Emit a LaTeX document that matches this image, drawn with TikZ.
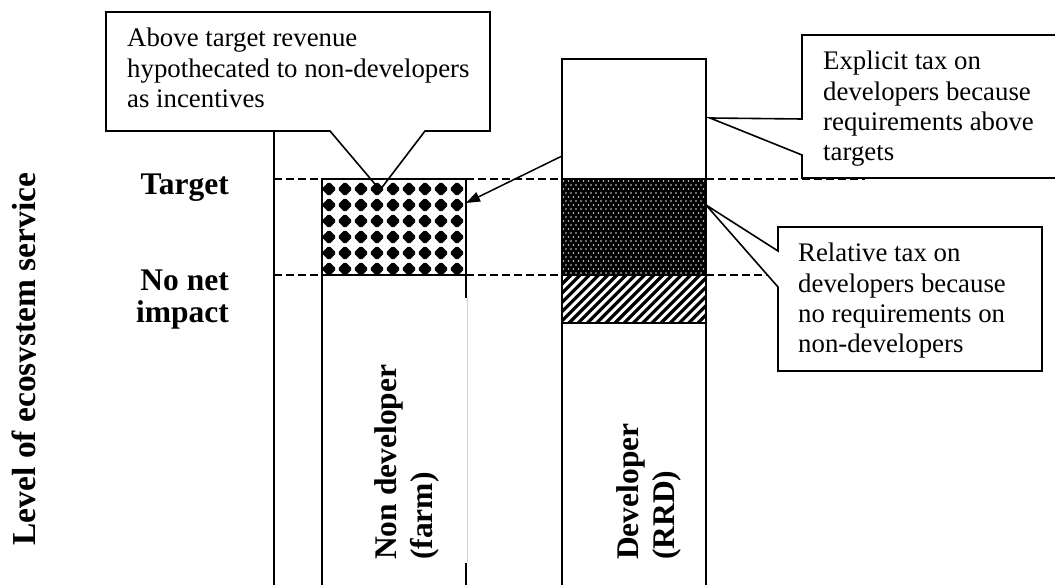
\documentclass[tikz,border=0pt]{standalone}
\usepackage{fontspec}
\setmainfont{Liberation Serif}
\usetikzlibrary{arrows.meta}

% lines stacked with the first baseline as the reference point
\newcommand\stackedleft[1]{\begin{tabular}[t]{@{}l@{}}#1\end{tabular}}
\newcommand\stackedright[1]{\begin{tabular}[t]{@{}r@{}}#1\end{tabular}}

\tikzset{
  barline/.style={line width=1.9pt},
  calloutline/.style={line width=1.6pt, fill=white, line join=miter},
  levelline/.style={dash pattern=on 8pt off 4pt, line width=1.4pt},
  calltext/.style={anchor=base west, inner sep=0pt, font=\fontsize{26.8}{30.3}\selectfont},
  boldlabel/.style={inner sep=0pt, font=\bfseries\fontsize{31.5}{32}\selectfont},
  barlabel/.style={inner sep=0pt, rotate=90, anchor=base west, font=\bfseries\fontsize{31.5}{36}\selectfont},
  axislabel/.style={inner sep=0pt, rotate=90, anchor=base, font=\bfseries\fontsize{33.5}{36}\selectfont},
  pointer/.style={line width=1.5pt, -{Triangle[length=14pt,width=10pt]}},
}

\begin{document}
\begin{tikzpicture}[x=1pt, y=-1pt]
\useasboundingbox (0,0) rectangle (1055,585);
\clip (0,0) rectangle (1055,585);

% reference levels
\coordinate (tgtL) at (274,179);
\coordinate (tgtR) at (865,179);
\coordinate (nniL) at (274,275);
\coordinate (nniR) at (775,275);
\draw[levelline] (tgtL) -- (tgtR);
\draw[levelline] (nniL) -- (nniR);

% callouts
\draw[calloutline] (106,12) -- (490,12) -- (490,131) -- (425,131) -- (380,190)
  -- (330,131) -- (106,131) -- cycle;
\draw[calloutline] (802,35) -- (1075,35) -- (1075,178) -- (802,178) -- (802,155)
  -- (710,118) -- (802,119) -- cycle;
\draw[calloutline] (778,227) -- (1042,227) -- (1042,371) -- (778,371) -- (778,287)
  -- (706,205) -- (778,251) -- cycle;

\node[calltext] (noteA) at (127,47)
  {\stackedleft{Above target revenue\\hypothecated to non-developers\\as incentives}};
\node[calltext] (noteB) at (823,70)
  {\stackedleft{Explicit tax on\\developers because\\requirements above\\targets}};
\node[calltext] (noteC) at (798,262)
  {\stackedleft{Relative tax on\\developers because\\no requirements on\\non-developers}};

% vertical axis
\coordinate (axTop) at (274,131);
\coordinate (axBot) at (274,600);
\draw[barline] (axTop) -- (axBot);

% non-developer bar: diamond band between the two levels
\foreach \i in {0,...,5}
  \foreach \j in {0,...,8}
    \fill[rounded corners=1.5pt] ({329+16*\j},{189+16*\i}) +(-7.3,0) -- +(0,-7.3)
      -- +(7.3,0) -- +(0,7.3) -- cycle;
\draw[barline] (322,600) -- (322,179) -- (466,179) -- (466,298);
\draw[barline] (322,275) -- (466,275);
\draw[black!18, line width=0.8pt] (467,298) -- (467,563);
\draw[barline] (466,563) -- (466,600);

% developer bar
\fill[white] (562,59) rectangle (706,600);
\fill[black] (562,179) rectangle (706,275);
\begin{scope}
  \clip (562,179) rectangle (706,275);
  \foreach \r in {0,...,24}
    \foreach \c in {0,...,29}
      \fill[white!85!black] ({563.5+5*\c+2.5*mod(\r,2)},{181+4*\r}) circle (0.95pt);
\end{scope}
\begin{scope}
  \clip (562,275) rectangle (706,323);
  \foreach \k in {-6,...,17}
    \draw[line width=3.2pt] ({562+9.2*\k},330) -- ++(70,-70);
\end{scope}
\draw[barline] (562,600) -- (562,59) -- (706,59) -- (706,600);
\draw[barline] (562,179) -- (706,179);
\draw[barline] (562,275) -- (706,275);
\draw[barline] (562,323) -- (706,323);

% revenue transfer
\coordinate (arrS) at (562,156);
\coordinate (arrE) at (466,203);
\draw[pointer] (arrS) -- (arrE);

% labels
\node[boldlabel, anchor=base east] (target) at (229,195) {Target};
\node[boldlabel, anchor=base east] (nonet) at (229,291) {\stackedright{No net\\impact}};
\begin{scope}
  \clip (0,0) rectangle (35.5,585);
  \node[axislabel] (level) at (35,359) {Level of ecosystem service};
\end{scope}
\node[barlabel] (nondev) at (396,560) {\stackedleft{Non developer\\(farm)}};
\node[barlabel] (dev) at (638,560) {\stackedleft{Developer\\(RRD)}};
\end{tikzpicture}
\end{document}
